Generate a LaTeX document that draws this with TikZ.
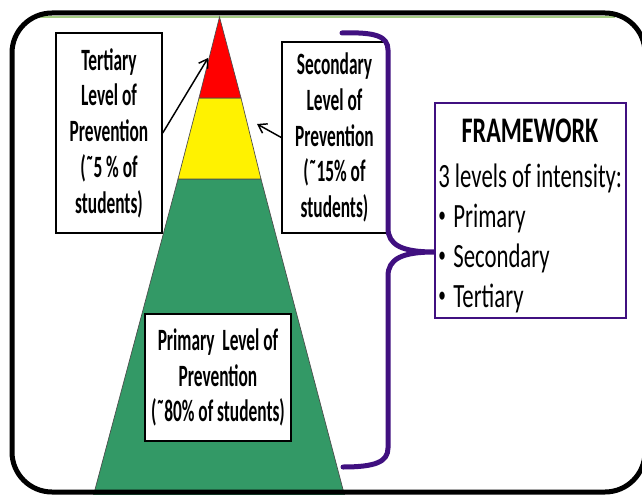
\documentclass[tikz,border=0pt]{standalone}
\usepackage{fontspec}
\setmainfont{Carlito}
\newfontfamily\lblfont{Carlito}[FakeStretch=0.56]
\newfontfamily\fwfont{Carlito}[FakeStretch=0.67]
\usetikzlibrary{arrows.meta}
\definecolor{pgreen}{RGB}{51,153,102}
\definecolor{bpurple}{RGB}{64,16,128}
\definecolor{lgreen}{RGB}{165,205,130}
\newcommand\smallbul{\raisebox{0.12em}{\fontsize{17}{17}\selectfont •}\hspace{0.22em}}
\tikzset{
  lbl/.style={draw=black, fill=white, line width=1.1pt, align=center, inner sep=0pt,
    font=\lblfont\bfseries\fontsize{23.25}{26.8}\selectfont},
  tier/.style={draw=black!70, line width=0.5pt},
  arr/.style={line width=1.1pt, -{Straight Barb[length=6pt,width=8pt]}},
  brace/.style={draw=bpurple, line width=3.75pt, line cap=round}
}
\begin{document}
\begin{tikzpicture}[x=0.75pt,y=-0.75pt]
\useasboundingbox (0,0) rectangle (642,495);
% top accent line
\draw[lgreen, line width=1.5pt] (35,17) -- (615,17);
% pyramid
\fill[pgreen, tier] (178,179) -- (261,179) -- (345,497) -- (93,497) -- cycle;
\fill[yellow, tier] (199,98) -- (241,98) -- (261,179) -- (178,179) -- cycle;
\fill[red, tier] (219.5,17) -- (241,98) -- (199,98) -- cycle;
% outer frame
\draw[black, line width=3.75pt, rounded corners=30pt] (12,13) rectangle (645,492);
% labels
\node[lbl, minimum width=79.5pt, minimum height=150pt] (ter) at (109,133)
  {Tertiary\\Level of\\Prevention\\(˜5 \% of\\students)};
\node[lbl, minimum width=78.75pt, minimum height=143.25pt] (sec) at (334.5,137.5)
  {Secondary\\Level of\\Prevention\\(˜15\% of\\students)};
\node[lbl, minimum width=109.5pt, minimum height=95.25pt] (pri) at (218,377.5)
  {Primary\ \ Level of\\Prevention\\(˜80\% of students)};
% arrows
\coordinate (tt) at (208,58);
\coordinate (st) at (257,124);
\draw[arr] (ter.east) -- (tt);
\draw[arr] (sec.west) -- (st);
% brace
\coordinate (btop) at (342,33);
\coordinate (cusp) at (434,252);
\coordinate (bbot) at (343,467);
\draw[brace] (btop) .. controls (375,32) and (388,36) .. (388,50) -- (388,228)
  .. controls (388,245) and (402,252) .. (cusp)
  .. controls (402,252) and (388,259) .. (388,276) -- (388,448)
  .. controls (388,462) and (375,467) .. (bbot);
% framework box
\node[draw=bpurple, line width=1.9pt, fill=white, minimum width=143.25pt, minimum height=161.25pt, inner sep=0pt] (fw) at (530.5,210.5) {};
\node[anchor=base, inner sep=0pt, font=\fwfont\bfseries\fontsize{27}{30}\selectfont] (fwt) at (530,143) {FRAMEWORK};
\node[anchor=base west, inner sep=0pt, align=left, font=\fwfont\fontsize{25.5}{30}\selectfont] (fwl) at (438,307)
  {3 levels of intensity:\\\smallbul Primary\\\smallbul Secondary\\\smallbul Tertiary};
\end{tikzpicture}
\end{document}
